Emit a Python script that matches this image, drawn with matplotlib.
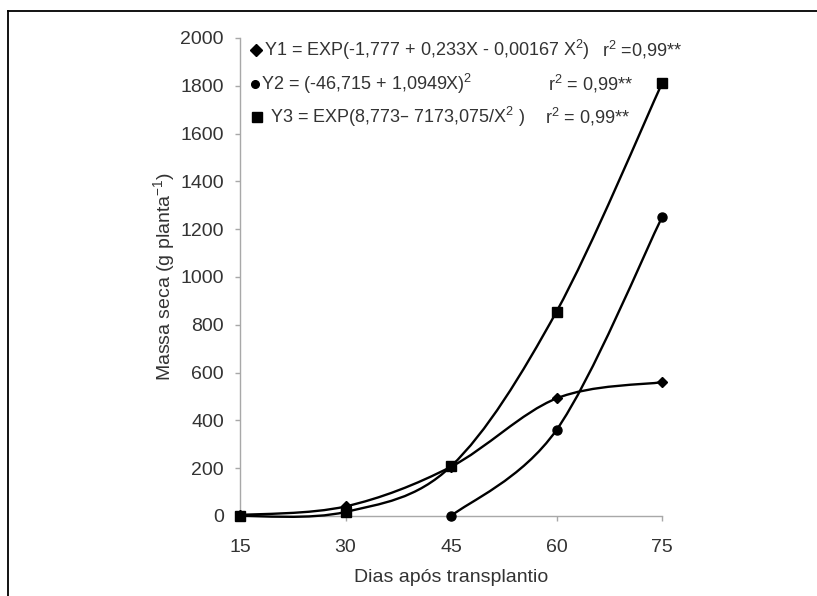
import matplotlib
matplotlib.use('Agg')
import matplotlib.pyplot as plt
from matplotlib.path import Path
from matplotlib.patches import PathPatch
from matplotlib.lines import Line2D

plt.rcParams['font.family'] = ['Liberation Sans', 'DejaVu Sans']
plt.rcParams['mathtext.default'] = 'regular'

# dados
dias = [15, 30, 45, 60, 75]
y1 = [4, 40, 206, 492, 560]        # losango
dias_y2 = [45, 60, 75]
y2 = [0, 360, 1250]                # circulo
y3 = [0, 17, 208, 855, 1810]       # quadrado

eq1 = 'Y1 = EXP(-1,777 + 0,233X - 0,00167 X$^{2}$)'
eq2 = 'Y2 = (-46,715 + 1,0949X)$^{2}$'
eq3 = 'Y3 = EXP(8,773\u2013 7173,075/X$^{2}$ )'
r2_1 = 'r$^{2}$ =0,99**'
r2_2 = 'r$^{2}$ = 0,99**'
r2_3 = 'r$^{2}$ = 0,99**'

xticks = [15, 30, 45, 60, 75]
yticks = list(range(0, 2001, 200))

GRAY = '#a8a8a8'
TXT = '#333333'


# curva suavizada tipo Excel (bezier pelos pontos)
def smooth_path(x, y):
    n = len(x)
    verts = [(x[0], y[0])]
    codes = [Path.MOVETO]
    for i in range(n - 1):
        a = max(i - 1, 0)
        d = min(i + 2, n - 1)
        c1 = (x[i] + (x[i + 1] - x[a]) / 6.0, y[i] + (y[i + 1] - y[a]) / 6.0)
        c2 = (x[i + 1] - (x[d] - x[i]) / 6.0, y[i + 1] - (y[d] - y[i]) / 6.0)
        verts += [c1, c2, (x[i + 1], y[i + 1])]
        codes += [Path.CURVE4] * 3
    return Path(verts, codes)


fig = plt.figure(figsize=(8.17, 5.96), dpi=100)
ax = fig.add_axes([240 / 817, 1 - 516 / 596, 422 / 817, 478 / 596])

for xs, ys in [(dias, y1), (dias_y2, y2), (dias, y3)]:
    p = PathPatch(smooth_path(xs, ys), fill=False, lw=1.7, color='black',
                  clip_on=False, zorder=3)
    ax.add_patch(p)

ax.plot(dias, y1, linestyle='none', marker='D', ms=5.5, color='black', clip_on=False, zorder=4)
ax.plot(dias_y2, y2, linestyle='none', marker='o', ms=6.5, color='black', clip_on=False, zorder=4)
ax.plot(dias, y3, linestyle='none', marker='s', ms=7, color='black', clip_on=False, zorder=5)

ax.set_xlim(15, 75)
ax.set_ylim(0, 2000)
ax.set_xticks(xticks)
ax.set_yticks(yticks)
for s in ['top', 'right']:
    ax.spines[s].set_visible(False)
for s in ['left', 'bottom']:
    ax.spines[s].set_color(GRAY)
    ax.spines[s].set_linewidth(1.0)
ax.tick_params(colors=GRAY, labelcolor=TXT, labelsize=14, length=3.6, width=1.0)
ax.tick_params(axis='x', pad=13)
ax.tick_params(axis='y', pad=8)

ax.set_xlabel('Dias após transplantio', fontsize=14, color=TXT, labelpad=9)
ax.set_ylabel('Massa seca (g planta$^{-1}$)', fontsize=14, color=TXT, labelpad=2)

# legenda com as equacoes
fs = 13
ax.plot([0.038], [0.975], marker='D', ms=6, color='black', transform=ax.transAxes, clip_on=False)
ax.text(0.058, 0.975, eq1, transform=ax.transAxes, fontsize=fs, color=TXT, va='center')
ax.text(0.858, 0.975, r2_1, transform=ax.transAxes, fontsize=fs, color=TXT, va='center')

ax.plot([0.036], [0.904], marker='o', ms=5.5, color='black', transform=ax.transAxes, clip_on=False)
ax.text(0.050, 0.904, eq2, transform=ax.transAxes, fontsize=fs, color=TXT, va='center')
ax.text(0.730, 0.904, r2_2, transform=ax.transAxes, fontsize=fs, color=TXT, va='center')

ax.plot([0.040], [0.835], marker='s', ms=6.5, color='black', transform=ax.transAxes, clip_on=False)
ax.text(0.070, 0.835, eq3, transform=ax.transAxes, fontsize=fs, color=TXT, va='center')
ax.text(0.722, 0.835, r2_3, transform=ax.transAxes, fontsize=fs, color=TXT, va='center')

# moldura da figura
fig.add_artist(Line2D([8 / 817, 1.0], [1 - 11 / 596, 1 - 11 / 596], color='black', lw=1.3, transform=fig.transFigure))
fig.add_artist(Line2D([8 / 817, 8 / 817], [0.0, 1 - 11 / 596], color='black', lw=1.3, transform=fig.transFigure))

fig.savefig('out.png', dpi=100)
